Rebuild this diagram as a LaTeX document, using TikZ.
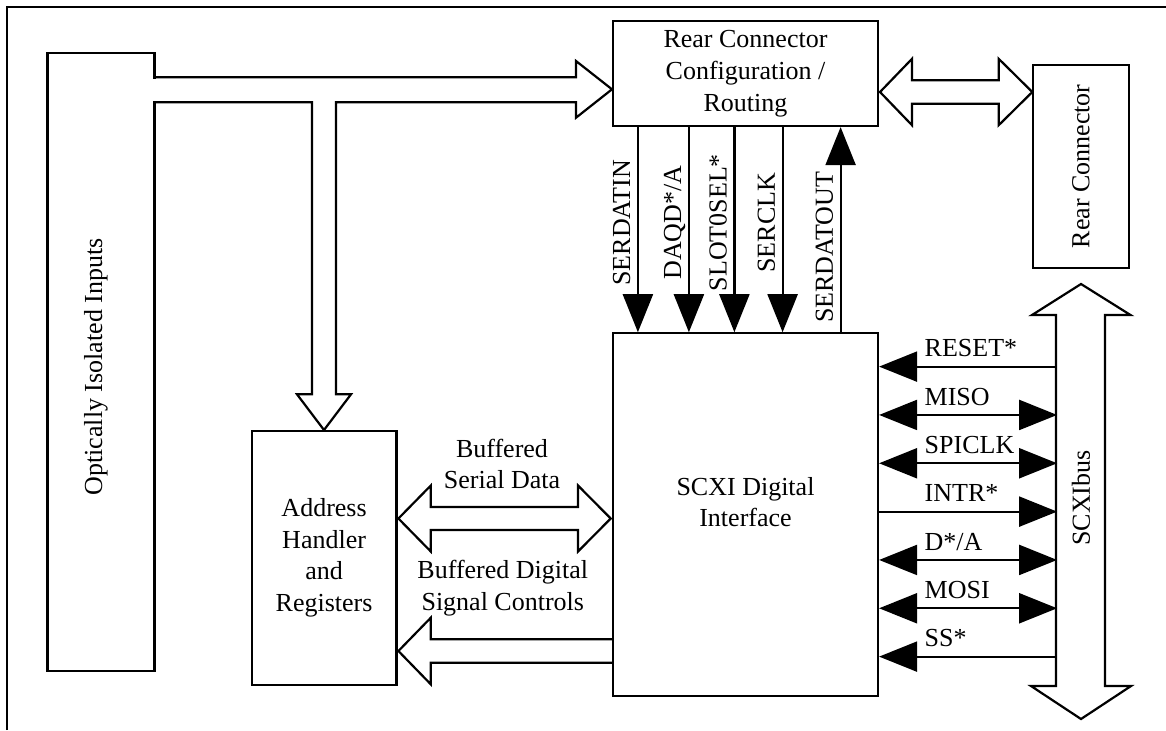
\documentclass[tikz,border=0pt]{standalone}
\usepackage{fontspec}
\setmainfont{Liberation Serif}
\usetikzlibrary{arrows.meta, positioning, calc}

\begin{document}
\begin{tikzpicture}[x=0.5pt, y=-0.5pt, line width=1.1pt, >={Triangle[length=19pt,width=15pt]},
    font=\fontsize{13}{15.85}\selectfont]
    \tikzstyle{box}=[draw, rectangle, align=center, inner sep=0pt]
    \tikzstyle{vlbl}=[rotate=90, anchor=south, inner sep=3.3pt, text depth=0pt]
    \tikzstyle{hlbl}=[anchor=base west, inner sep=0pt, yshift=4.85pt]

\useasboundingbox (0,0) rectangle (1166,730);

% frame
\draw (7,730) -- (7,7) -- (1166,7);

\node[box, minimum width=53.5pt, minimum height=309pt]    (opt)  at (101,362)     {};
\node[rotate=90]                                          (optlbl) at (96,367)    {Optically Isolated Inputs};
\node[box, minimum width=132.5pt, minimum height=52.5pt]  (rcc)  at (745.5,73.5)  {Rear Connector\\Configuration /\\Routing};
\node[box, minimum width=132.5pt, minimum height=181.4pt] (scxi) at (745.5,514.7) {};
\node[align=center]                                       (scxilbl) at (745.5,502) {SCXI Digital\\Interface};
\node[box, minimum width=72.3pt, minimum height=127.2pt]  (addr) at (324.1,557.9) {Address\\Handler\\and\\Registers};
\node[box, minimum width=48pt, minimum height=101.4pt]    (rear) at (1081,166.3)  {\rotatebox{90}{Rear Connector}};

% wide arrows
\fill[white] (150,79) rectangle (158,100.5);
\draw (154.5,77.3) -- (576,77.3) -- (576,61) -- (612,89.3) -- (576,117.7) -- (576,102.3)
    -- (336,102.3) -- (336,394.3) -- (351,394.3) -- (324,430) -- (297,394.3) -- (312,394.3)
    -- (312,102.3) -- (154.5,102.3);
\draw (912,80.3) -- (912,58.8) -- (880,92) -- (912,125.2) -- (912,103.7) -- (998.7,103.7)
    -- (998.7,125.2) -- (1032.3,92) -- (998.7,58.8) -- (998.7,80.3) -- cycle;
\draw (1056,315) -- (1032,315) -- (1081,284) -- (1130.5,315) -- (1105,315) -- (1105,686)
    -- (1131,686) -- (1081,719) -- (1031,686) -- (1056,686) -- cycle;
\node[rotate=90] (buslbl) at (1081,498) {SCXIbus};
\draw (430.8,507) -- (430.8,485.5) -- (398.4,518.5) -- (430.8,551.5) -- (430.8,530) -- (578,530)
    -- (578,551.5) -- (610.7,518.5) -- (578,485.5) -- (578,507) -- cycle;
\node[align=center] (serlbl) at (502,464) {Buffered\\Serial Data};
\draw (613,639.3) -- (430.8,639.3) -- (430.8,617.7) -- (398.4,651) -- (430.8,684.3) -- (430.8,662.7) -- (613,662.7);
\node[align=center] (ctllbl) at (502.8,588) {Buffered Digital\\Signal Controls};

% serial lines
\draw[->] ([xshift=13pt]rcc.south west) -- node[vlbl, pos=0.466] {SERDATIN} ([xshift=13pt]scxi.north west);
\draw[->] ([xshift=38.5pt]rcc.south west) -- node[vlbl, pos=0.466] {DAQD*/A} ([xshift=38.5pt]scxi.north west);
\draw[->] ([xshift=61.25pt]rcc.south west) -- node[vlbl, pos=0.466] {SLOT0SEL*} ([xshift=61.25pt]scxi.north west);
\draw[->] ([xshift=85.35pt]rcc.south west) -- node[vlbl, pos=0.466] {SERCLK} ([xshift=85.35pt]scxi.north west);
\draw[->] ([xshift=114.35pt]scxi.north west) -- node[vlbl, pos=0.414] {SERDATOUT} ([xshift=114.35pt]rcc.south west);

% bus lines
\draw[<-]  ([yshift=-17.2pt]scxi.north east)   -- node[hlbl, pos=0.25] {RESET*} ++(178,0);
\draw[<->] ([yshift=-41.37pt]scxi.north east)  -- node[hlbl, pos=0.25] {MISO} ++(178,0);
\draw[<->] ([yshift=-65.53pt]scxi.north east)  -- node[hlbl, pos=0.25] {SPICLK} ++(178,0);
\draw[->]  ([yshift=-89.7pt]scxi.north east)   -- node[hlbl, pos=0.25] {INTR*} ++(178,0);
\draw[<->] ([yshift=-113.87pt]scxi.north east) -- node[hlbl, pos=0.25] {D*/A} ++(178,0);
\draw[<->] ([yshift=-138.03pt]scxi.north east) -- node[hlbl, pos=0.25] {MOSI} ++(178,0);
\draw[<-]  ([yshift=-162.2pt]scxi.north east)  -- node[hlbl, pos=0.25] {SS*} ++(178,0);
\end{tikzpicture}
\end{document}
